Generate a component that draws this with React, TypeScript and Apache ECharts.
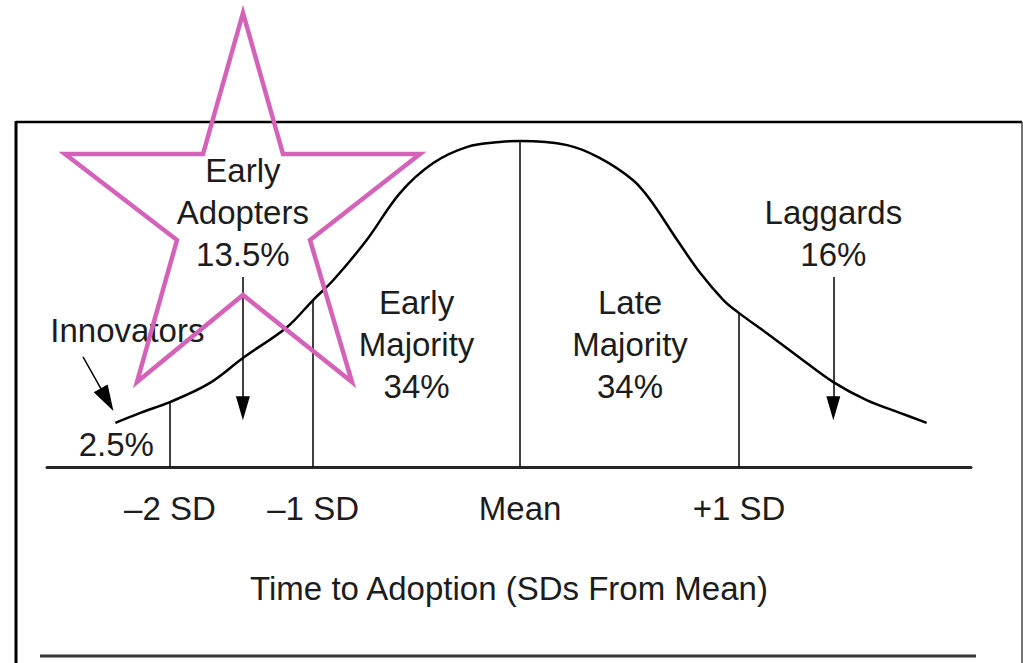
import React, { useEffect, useRef } from "react";
import * as echarts from "echarts";

// Position along the time axis (0–100) and curve height (0–100)
const curveX = [7.4, 10.1, 13.3, 17.6, 21.2, 26.0, 28.8, 31.0, 34.6, 38.2, 41.8, 45.5, 49.0, 51.2, 56.3, 59.8, 63.4, 65.3, 68.2, 70.7, 73.2, 74.9, 77.9, 81.5, 85.1, 88.7, 92.3, 95.2];
const curveY = [12.8, 15.7, 18.8, 24.3, 31.6, 40.6, 48.4, 54.2, 65.8, 79.4, 88.1, 92.8, 94.2, 94.5, 93.3, 89.6, 83.2, 77.4, 65.8, 56.2, 48.4, 44.6, 38.8, 31.6, 24.6, 19.4, 15.7, 12.8];

// SD division lines
const sdPositions = [13.3, 28.8, 51.2, 74.9];
const sdHeights = [18.8, 48.4, 94.5, 44.6];
const sdLabels = ["\u20132 SD", "\u20131 SD", "Mean", "+1 SD"];

// Adopter category labels
const groupTexts = ["Early\nAdopters\n13.5%", "Innovators", "2.5%", "Early\nMajority\n34%", "Late\nMajority\n34%", "Laggards\n16%"];
const groupX = [21.2, 8.7, 7.5, 40.0, 63.1, 85.1];
const groupY = [73.9, 39.7, 6.4, 35.4, 35.4, 67.8];

// Arrows: [fromX, fromY, toX, toY]
const arrowFromX = [21.2, 85.1, 3.9];
const arrowFromY = [55.1, 55.1, 31.9];
const arrowToX = [21.2, 85.1, 6.5];
const arrowToY = [17.0, 17.0, 19.5];

const axisTitle = "Time to Adoption (SDs From Mean)";

const FONT = "'Liberation Sans', Arial, Helvetica, sans-serif";
const TEXT_COLOR = "#1c1c1c";

export default function App() {
  const ref = useRef<HTMLDivElement>(null);

  useEffect(() => {
    if (!ref.current) return;
    const chart = echarts.init(ref.current, undefined, { renderer: "svg" });

    const starPoints = [
      [243, 13], [283, 154], [420, 154], [310, 240], [352, 382],
      [243, 295], [137, 382], [177, 240], [65, 154], [203, 154],
    ];

    const option: any = {
      animation: false,
      backgroundColor: "#ffffff",
      grid: { left: 47, right: 52, top: 122, bottom: 196, containLabel: false },
      xAxis: {
        type: "value",
        min: 0,
        max: 100,
        axisLine: { show: true, lineStyle: { color: "#262626", width: 3 } },
        axisTick: { show: false },
        splitLine: { show: false },
        axisLabel: {
          customValues: sdPositions,
          formatter: (v: number) => {
            const i = sdPositions.findIndex((p) => Math.abs(p - v) < 0.01);
            return i >= 0 ? sdLabels[i] : "";
          },
          fontSize: 33,
          fontFamily: FONT,
          color: TEXT_COLOR,
          margin: 25,
        },
        name: axisTitle,
        nameLocation: "middle",
        nameGap: 105,
        nameTextStyle: { fontSize: 33, fontFamily: FONT, color: TEXT_COLOR },
      },
      yAxis: { type: "value", min: 0, max: 100, show: false },
      series: [
        {
          type: "line",
          data: curveX.map((x, i) => [x, curveY[i]]),
          smooth: 0.35,
          symbol: "none",
          lineStyle: { color: "#000", width: 2.5 },
          markLine: {
            silent: true,
            symbol: ["none", "none"],
            label: { show: false },
            lineStyle: { color: "#000", width: 1.5, type: "solid" },
            data: sdPositions.map((p, i) => [
              { coord: [p, 0] },
              { coord: [p, sdHeights[i]] },
            ]),
          },
        },
        {
          type: "scatter",
          symbolSize: 1,
          itemStyle: { color: "rgba(255,255,255,0)", opacity: 1 },
          silent: true,
          data: groupTexts.map((t, i) => ({
            value: [groupX[i], groupY[i]],
            label: { formatter: t },
          })),
          label: {
            show: true,
            position: "inside",
            fontSize: 33,
            lineHeight: 42,
            fontFamily: FONT,
            color: TEXT_COLOR,
            opacity: 1,
            textBorderWidth: 0,
            align: "center",
            verticalAlign: "middle",
          },
          markLine: {
            silent: true,
            symbol: ["none", "triangle"],
            symbolSize: [14, 24],
            label: { show: false },
            lineStyle: { color: "#000", width: 1.5, type: "solid", opacity: 1 },
            itemStyle: { color: "#000" },
            data: arrowFromX.map((fx, i) => [
              { coord: [fx, arrowFromY[i]] },
              i === 2
                ? { coord: [arrowToX[i], arrowToY[i]], symbolSize: [16, 26] }
                : { coord: [arrowToX[i], arrowToY[i]] },
            ]),
          },
        },
      ],
      graphic: [
        { type: "line", shape: { x1: 16, y1: 122, x2: 1022, y2: 122 }, style: { stroke: "#000", lineWidth: 2.5 }, z: 10 },
        { type: "line", shape: { x1: 16, y1: 121, x2: 16, y2: 663 }, style: { stroke: "#000", lineWidth: 3 }, z: 10 },
        { type: "line", shape: { x1: 1022, y1: 122, x2: 1022, y2: 663 }, style: { stroke: "#444", lineWidth: 1.5 }, z: 10 },
        { type: "line", shape: { x1: 40, y1: 656, x2: 976, y2: 656 }, style: { stroke: "#333", lineWidth: 3 }, z: 10 },
        {
          type: "polygon",
          shape: { points: starPoints },
          style: { fill: "none", stroke: "#d462b8", lineWidth: 4.5, lineJoin: "miter" },
          z: 100,
        },
      ],
    };

    chart.setOption(option);
    return () => chart.dispose();
  }, []);

  return (
    <div
      ref={ref}
      style={{ position: "fixed", left: 0, top: 0, width: 1023, height: 663, background: "#fff" }}
    />
  );
}
